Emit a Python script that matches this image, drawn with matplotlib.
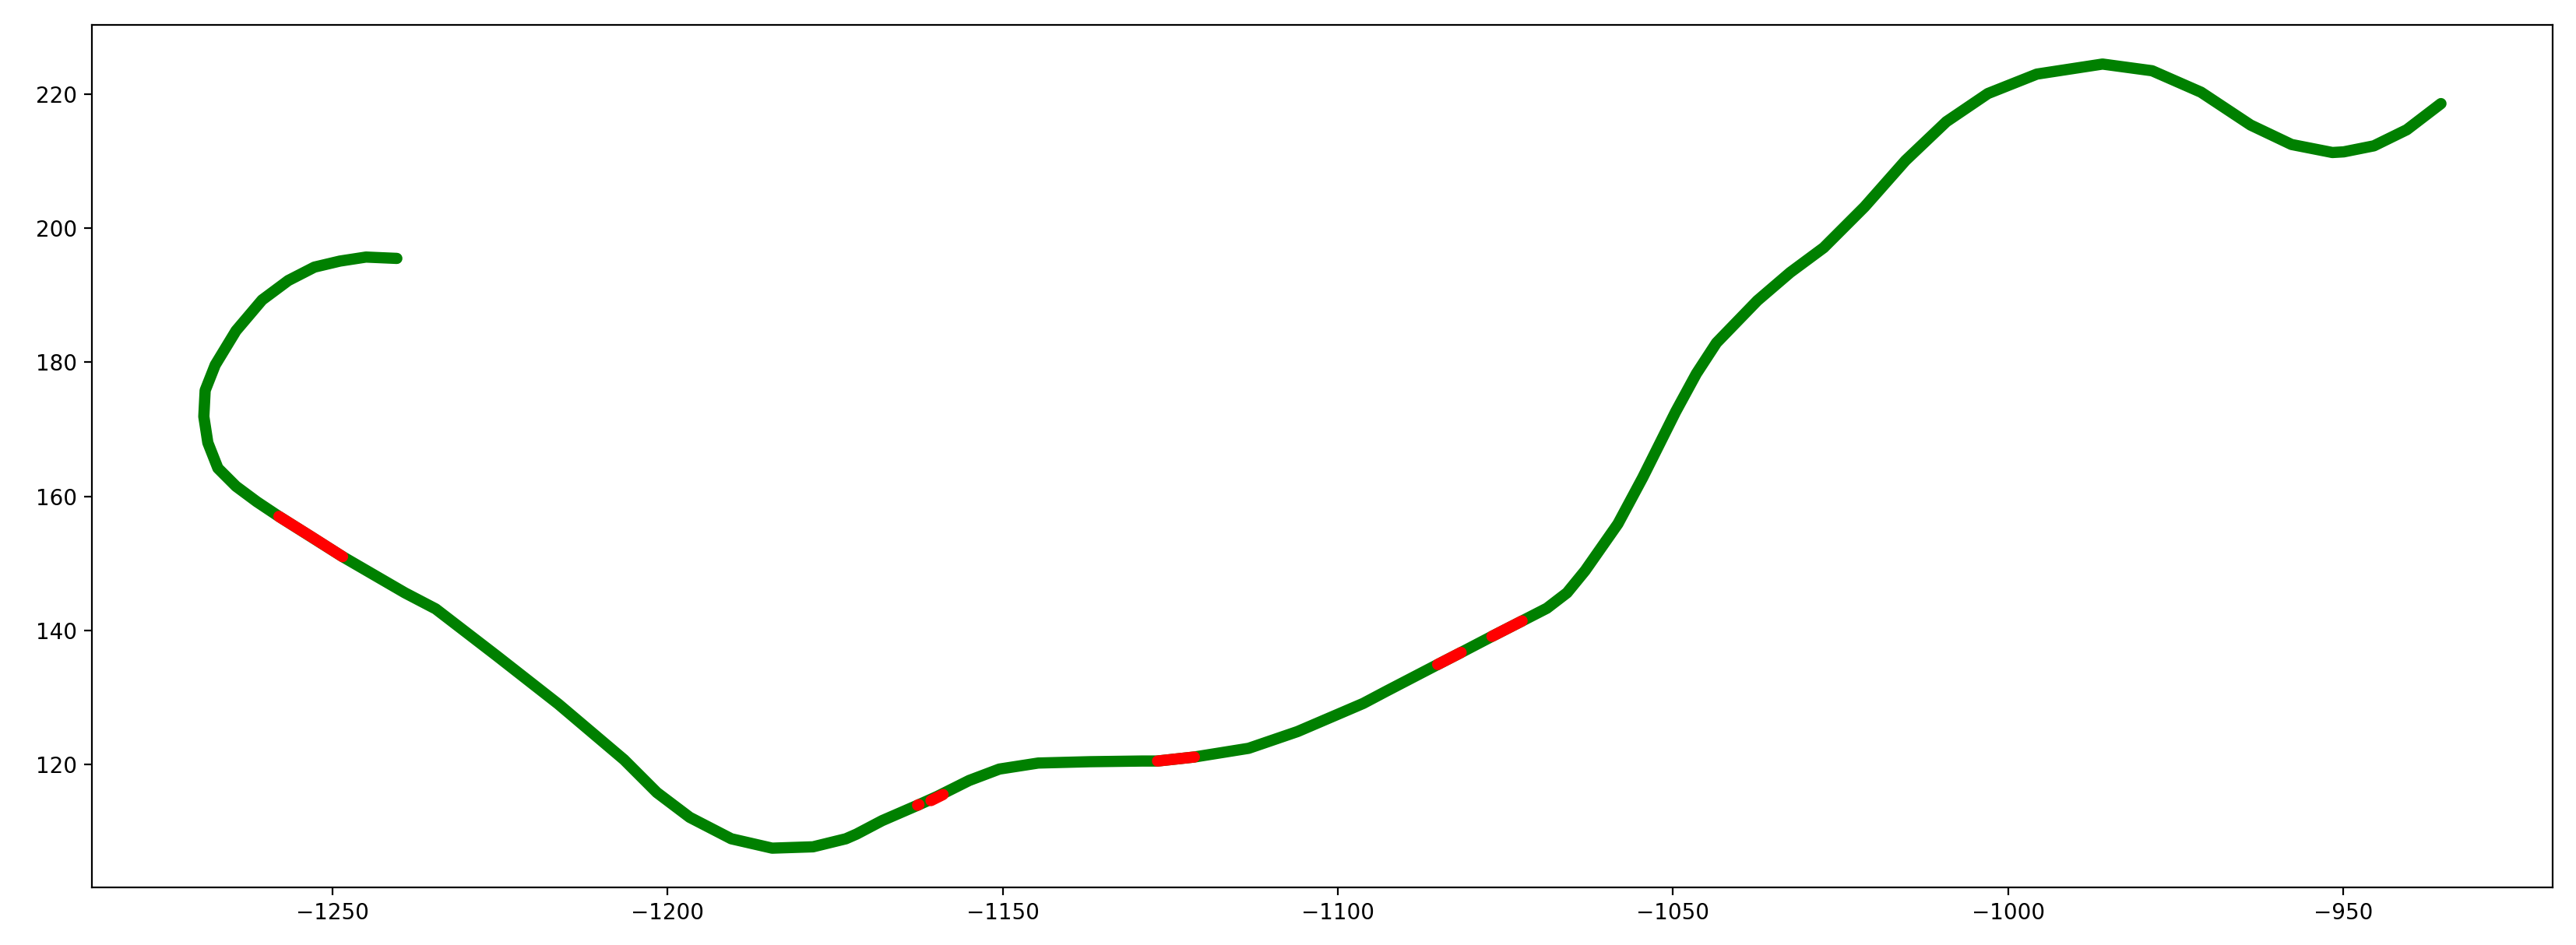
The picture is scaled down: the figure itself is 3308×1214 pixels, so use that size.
import matplotlib
matplotlib.use("Agg")
import matplotlib.pyplot as plt

# trajectory (x, y)
path_x = [-1240.4, -1245.0, -1248.9, -1252.7, -1256.6, -1260.5, -1264.4, -1267.5,
          -1269.0, -1269.2, -1268.6, -1267.1, -1264.4, -1261.3, -1258.0, -1248.5,
          -1239.2, -1234.6, -1225.5, -1216.3, -1206.5, -1201.6, -1196.7, -1190.5,
          -1184.4, -1178.3, -1173.4, -1171.8, -1168.0, -1162.7, -1159.8, -1155.0,
          -1150.5, -1144.7, -1137.0, -1129.2, -1126.9, -1121.4, -1113.3, -1106.0,
          -1096.2, -1092.8, -1085.1, -1081.6, -1077.0, -1072.5, -1068.8, -1065.8,
          -1063.1, -1058.2, -1054.5, -1049.6, -1046.5, -1043.5, -1037.4, -1032.5,
          -1027.5, -1021.4, -1015.3, -1009.2, -1003.0, -995.7, -985.9, -978.5,
          -971.2, -963.8, -957.7, -951.6, -949.9, -945.4, -940.5, -935.4]
path_y = [195.5, 195.7, 195.1, 194.2, 192.2, 189.3, 184.7, 179.6,
          175.8, 171.9, 168.0, 164.2, 161.5, 159.2, 157.0, 151.0,
          145.6, 143.2, 136.2, 129.0, 120.7, 115.8, 112.1, 108.9,
          107.5, 107.7, 108.9, 109.6, 111.6, 113.9, 115.2, 117.6,
          119.3, 120.2, 120.4, 120.5, 120.5, 121.1, 122.4, 124.9,
          129.1, 130.9, 134.9, 136.7, 139.1, 141.4, 143.3, 145.6,
          148.9, 155.9, 162.8, 172.6, 178.3, 182.9, 189.2, 193.4,
          197.1, 203.2, 210.1, 215.9, 220.1, 223.0, 224.5, 223.5,
          220.3, 215.4, 212.5, 211.3, 211.4, 212.3, 214.7, 218.6]

# flagged stretches (red)
red_x = [[-1258.0, -1253.2, -1248.5],
         [-1162.7, -1162.5],
         [-1160.7, -1158.9],
         [-1126.9, -1121.4],
         [-1085.1, -1081.6],
         [-1077.0, -1072.5]]
red_y = [[157.0, 154.0, 151.0],
         [113.9, 114.0],
         [114.6, 115.5],
         [120.5, 121.1],
         [134.9, 136.7],
         [139.1, 141.4]]

fig = plt.figure(figsize=(16.54, 6.07), dpi=200)
ax = fig.add_axes([0.0357, 0.061, 0.9553, 0.9127])

ax.plot(path_x, path_y, color="green", lw=5.2, solid_capstyle="round",
        solid_joinstyle="round")
for rx, ry in zip(red_x, red_y):
    ax.plot(rx, ry, color="red", lw=5.2, solid_capstyle="round")

ax.set_xticks([-1250, -1200, -1150, -1100, -1050, -1000, -950])
ax.set_yticks([120, 140, 160, 180, 200, 220])

fig.savefig("out.png", dpi=200)
